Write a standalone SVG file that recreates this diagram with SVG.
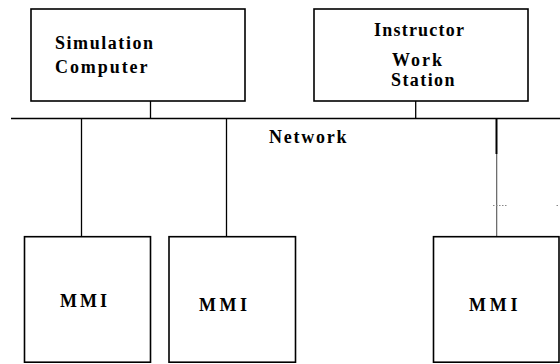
<svg xmlns="http://www.w3.org/2000/svg" width="560" height="364" viewBox="0 0 560 364">
<defs>
<style>
.box{fill:#fff;stroke:#000;stroke-width:1.6}
.ln{stroke:#000;stroke-width:1.3;fill:none}
.t{font-family:"Liberation Serif","Times New Roman",serif;font-weight:bold;font-size:18px;fill:#000}
</style>
</defs>
<rect width="560" height="364" fill="#fff"/>
<g id="connectors">
<line class="ln" x1="11" y1="118.5" x2="560" y2="118.5"/>
<line class="ln" x1="150.5" y1="101" x2="150.5" y2="118.5"/>
<line class="ln" x1="415.7" y1="101" x2="415.7" y2="118.5"/>
<line class="ln" x1="81.5" y1="118.5" x2="81.5" y2="237"/>
<line class="ln" x1="226.5" y1="118.5" x2="226.5" y2="237"/>
<line stroke="#000" stroke-width="2" x1="496.5" y1="118.5" x2="496.5" y2="154"/>
<line stroke="#555" stroke-width="1.1" x1="496.7" y1="154" x2="496.7" y2="237"/>
<line stroke="#888" stroke-width="1" stroke-dasharray="1.5,1.5" x1="493" y1="205.5" x2="507" y2="205.5"/>
<line stroke="#888" stroke-width="1" x1="556.5" y1="205.5" x2="558" y2="205.5"/>
</g>
<g id="simulation-computer">
<rect class="box" x="31" y="9" width="214" height="92"/>
<text class="t" x="55" y="49" textLength="98" lengthAdjust="spacing">Simulation</text>
<text class="t" x="55" y="73" textLength="92.5" lengthAdjust="spacing">Computer</text>
</g>
<g id="instructor-work-station">
<rect class="box" x="314" y="9" width="214" height="92"/>
<text class="t" x="374" y="36" textLength="90" lengthAdjust="spacing">Instructor</text>
<text class="t" x="392" y="66" textLength="50" lengthAdjust="spacing">Work</text>
<text class="t" x="391" y="86" textLength="63.5" lengthAdjust="spacing">Station</text>
</g>
<g id="network-label">
<text class="t" x="269" y="143.3" textLength="77.5" lengthAdjust="spacing">Network</text>
</g>
<g id="mmi-1">
<rect class="box" x="24.5" y="236.7" width="126" height="125.5"/>
<text class="t" x="60" y="306.7" textLength="47" lengthAdjust="spacing">MMI</text>
</g>
<g id="mmi-2">
<rect class="box" x="169" y="236.7" width="126.5" height="125.5"/>
<text class="t" x="199" y="311" textLength="48" lengthAdjust="spacing">MMI</text>
</g>
<g id="mmi-3">
<rect class="box" x="433.5" y="236.7" width="125.5" height="125.5"/>
<text class="t" x="469" y="310.7" textLength="48.5" lengthAdjust="spacing">MMI</text>
</g>
</svg>
